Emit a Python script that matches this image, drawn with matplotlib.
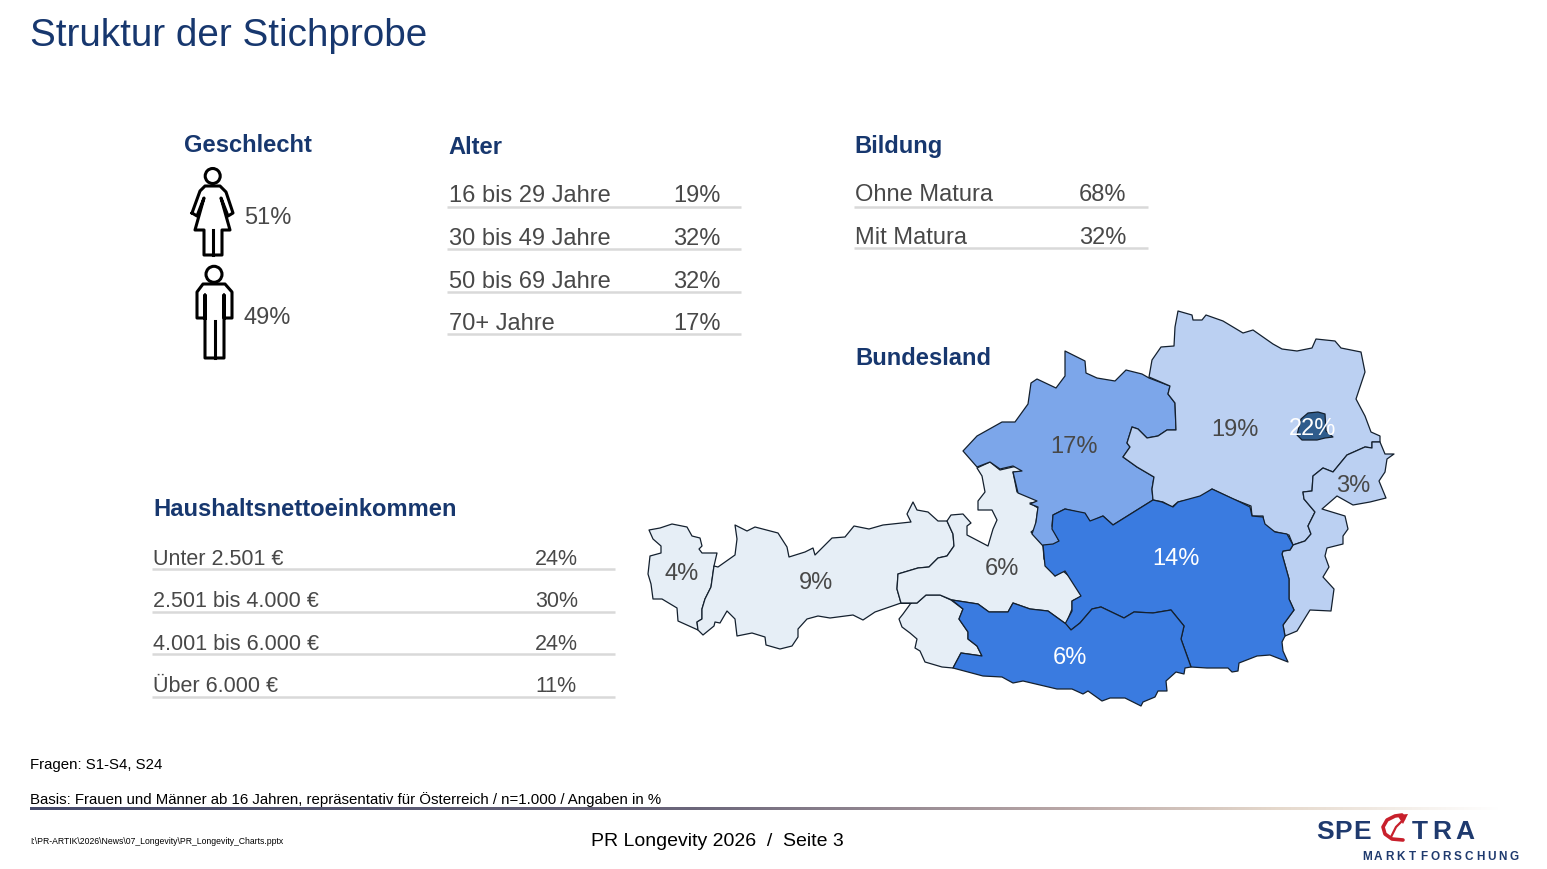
import numpy as np
import matplotlib
matplotlib.use("Agg")
import matplotlib.pyplot as plt
from matplotlib.patches import Polygon, Circle

plt.rcParams["font.family"] = ["Liberation Sans", "DejaVu Sans"]

# ----------------------------
# Data
# ----------------------------
alter_labels = ["16 bis 29 Jahre", "30 bis 49 Jahre", "50 bis 69 Jahre", "70+ Jahre"]
alter_values = [19, 32, 32, 17]
bildung_labels = ["Ohne Matura", "Mit Matura"]
bildung_values = [68, 32]
einkommen_labels = ["Unter 2.501 €", "2.501 bis 4.000 €", "4.001 bis 6.000 €", "Über 6.000 €"]
einkommen_values = [24, 30, 24, 11]
geschlecht_values = [51, 49]

# map shapes (pixel coords)
vorarlberg = [(649,531),(660,529),(672,525),(687,528),(692,537),(700,539),(702,547),(699,550),(702,554),(717,554),
              (714,567),(711,588),(705,600),(702,610),(702,620),(697,623),(698,631),(678,622),(677,609),(662,600),
              (653,600),(651,585),(648,575),(650,557),(661,554),(661,547),(653,540)]
tirol = [(735,526),(747,532),(755,528),(778,534),(787,548),(789,558),(805,553),(813,549),(815,556),(832,539),
         (845,538),(854,527),(869,530),(883,526),(911,523),(907,515),(913,503),(917,511),(928,513),(938,522),
         (947,522),(953,535),(954,547),(947,557),(938,559),(929,568),(918,569),(898,575),(897,590),(901,604),
         (875,613),(863,621),(853,616),(830,619),(818,617),(807,620),(798,630),(798,638),(792,647),(780,650),
         (766,646),(765,638),(752,634),(737,637),(735,620),(727,612),(720,624),(715,623),(714,627),(703,636),
         (698,631),(697,623),(702,620),(702,610),(705,600),(711,588),(714,567),(718,568),(735,556),(737,540)]
osttirol = [(901,604),(917,604),(926,596),(940,596),(951,601),(963,610),(959,620),(968,633),(968,640),(977,647),
            (982,657),(961,654),(953,669),(942,668),(925,663),(920,652),(915,649),(917,640),(910,634),(902,628),
            (899,620),(903,615),(911,604)]
salzburg = [(977,469),(990,463),(1000,471),(1017,467),(1023,473),(1013,473),(1017,493),(1035,497),(1037,503),(1030,504),
            (1038,509),(1035,530),(1031,533),(1043,546),(1044,560),(1055,577),(1063,572),(1070,578),(1082,597),(1072,602),
            (1072,610),(1066,625),(1048,612),(1030,610),(1013,604),(1008,613),(989,613),(978,605),(952,601),(940,596),
            (926,596),(917,604),(901,604),(897,590),(898,575),(918,569),(929,568),(938,559),(947,557),(954,547),
            (953,535),(947,522),(951,516),(963,515),(971,524),(967,527),(967,536),(988,547),(993,530),(997,521),
            (992,511),(978,511),(978,502),(985,493),(982,477)]
oberoesterreich = [(1065,352),(1085,362),(1086,374),(1097,379),(1115,382),(1126,371),(1142,375),(1149,379),(1170,387),(1168,395),
                   (1175,404),(1176,431),(1167,431),(1158,437),(1147,439),(1138,430),(1132,428),(1127,444),(1130,448),(1123,458),
                   (1137,468),(1154,478),(1152,490),(1153,501),(1113,526),(1103,517),(1090,523),(1085,515),(1065,510),(1053,516),
                   (1052,527),(1059,542),(1057,546),(1043,547),(1032,535),(1036,523),(1038,508),(1030,505),(1037,502),(1018,494),
                   (1013,473),(1022,472),(1013,467),(1000,470),(990,463),(977,468),(963,452),(977,437),(1002,423),(1015,423),
                   (1028,405),(1031,384),(1037,380),(1056,389),(1065,377)]
niederoesterreich = [(1178,312),(1192,316),(1193,321),(1202,321),(1206,316),(1223,322),(1243,334),(1253,331),(1273,345),(1282,350),
                     (1297,352),(1312,349),(1316,340),(1335,342),(1341,349),(1361,353),(1365,373),(1356,400),(1365,417),(1371,433),
                     (1380,437),(1380,443),(1372,443),(1372,449),(1365,448),(1347,456),(1333,473),(1323,469),(1313,477),(1312,492),
                     (1303,493),(1304,500),(1315,513),(1308,527),(1311,535),(1305,542),(1293,546),(1289,536),(1272,532),(1264,525),
                     (1263,517),(1252,517),(1251,507),(1233,500),(1212,490),(1202,498),(1178,503),(1172,508),(1163,503),(1153,501),
                     (1152,490),(1154,478),(1137,468),(1123,458),(1130,448),(1127,444),(1132,428),(1138,430),(1147,439),(1158,437),
                     (1167,431),(1176,431),(1175,404),(1168,395),(1170,387),(1149,378),(1152,361),(1161,348),(1174,347),(1175,328)]
wien = [(1297,436),(1301,420),(1308,414),(1318,413),(1325,415),(1326,432),(1333,438),(1325,439),(1317,441),(1302,441)]
burgenland = [(1380,443),(1385,455),(1394,455),(1387,460),(1385,473),(1379,482),(1386,499),(1370,503),(1353,506),(1337,497),
              (1322,510),(1345,517),(1348,530),(1343,537),(1343,545),(1327,549),(1325,557),(1329,568),(1323,578),(1334,590),
              (1331,612),(1310,611),(1297,632),(1285,637),(1283,626),(1294,611),(1289,600),(1289,580),(1282,555),(1283,552),
              (1290,551),(1293,546),(1305,542),(1311,535),(1308,527),(1315,513),(1304,500),(1303,493),(1312,492),(1313,477),
              (1323,469),(1333,473),(1347,456),(1365,448),(1372,449),(1372,443)]
steiermark = [(1043,546),(1053,545),(1059,542),(1052,530),(1053,516),(1065,510),(1085,514),(1090,522),(1103,517),(1113,526),
              (1153,501),(1162,503),(1173,508),(1178,503),(1200,497),(1212,490),(1240,503),(1250,508),(1252,517),(1263,518),
              (1265,525),(1275,533),(1287,535),(1293,546),(1290,551),(1283,552),(1282,555),(1289,580),(1289,600),(1294,611),
              (1283,626),(1285,637),(1282,643),(1283,652),(1288,663),(1270,656),(1257,657),(1239,664),(1238,672),(1232,673),
              (1228,669),(1207,669),(1191,668),(1181,640),(1184,627),(1171,611),(1153,614),(1134,613),(1124,619),(1101,608),
              (1092,610),(1080,624),(1071,631),(1065,625),(1072,612),(1072,602),(1081,597),(1065,572),(1055,577),(1045,567)]
kaernten = [(953,669),(961,654),(982,657),(977,647),(968,640),(968,633),(959,620),(963,610),(952,601),(978,605),
            (989,613),(1008,613),(1013,604),(1030,610),(1048,612),(1066,625),(1071,631),(1080,624),(1092,610),(1101,608),
            (1124,619),(1134,613),(1153,614),(1171,611),(1184,627),(1181,640),(1191,668),(1185,669),(1184,675),(1176,673),
            (1166,682),(1167,692),(1158,692),(1155,698),(1143,703),(1141,707),(1125,699),(1110,699),(1102,702),(1088,692),
            (1083,695),(1072,690),(1057,690),(1023,682),(1013,684),(1002,678),(983,677)]

# shape, colour, share, label position, label colour
bundeslaender = [
    (vorarlberg, "#E6EEF6", 4, (682, 574), "#484848"),
    (tirol, "#E6EEF6", 9, (816, 583), "#484848"),
    (osttirol, "#E6EEF6", None, None, None),
    (salzburg, "#E6EEF6", 6, (1002, 569), "#484848"),
    (oberoesterreich, "#7CA6EA", 17, (1074, 447), "#484848"),
    (niederoesterreich, "#BBD0F2", 19, (1235, 430), "#484848"),
    (burgenland, "#BBD0F2", 3, (1353, 486), "#484848"),
    (steiermark, "#3A7BE0", 14, (1176, 559), "white"),
    (kaernten, "#3A7BE0", 6, (1070, 658), "white"),
    (wien, "#2F5C8C", 22, (1313, 429), "white"),
]

# pictograms
frau = [(192,214),(200,192),(205,187),(220,187),(226,193),(233,214),(228,217),(221,199),(230,231),(222,231),
        (222,256),(204,256),(204,231),(195,231),(204,199),(197,217),(192,214)]
mann = [(205,319),(197,319),(197,293),(203,285),(225,285),(232,293),(232,319),(224,319),(224,296),(224,359),
        (205,359),(205,296),(205,319)]

NAVY = "#17376E"
GREY = "#484848"
RULE = "#D9D9D9"
LOGO = "#1F3A6E"
LOGO_RED = "#C8202C"

# ----------------------------
# Canvas in pixel coords
# ----------------------------
fig = plt.figure(figsize=(15.47, 8.70), dpi=100)
ax = fig.add_axes([0, 0, 1, 1])
ax.set_xlim(0, 1547)
ax.set_ylim(870, 0)
ax.axis("off")

ax.text(30, 36, "Struktur der Stichprobe", fontsize=27.8, color=NAVY, va="center")


def heading(x, y, s):
    ax.text(x, y, s, fontsize=17.1, fontweight="bold", color=NAVY, va="center")


def table(labels, values, x_label, x_value, x0, x1, y_text, y_rule, size=17):
    for lab, val, yt, yr in zip(labels, values, y_text, y_rule):
        ax.text(x_label, yt, lab, fontsize=size, color=GREY, va="center")
        ax.text(x_value, yt, f"{val}%", fontsize=size, color=GREY, va="center")
        ax.plot([x0, x1], [yr, yr], color=RULE, lw=1.8, solid_capstyle="butt")


heading(184, 146, "Geschlecht")
heading(448, 147, "Alter")
heading(854, 146, "Bildung")
heading(153, 509, "Haushaltsnettoeinkommen")
heading(855, 359, "Bundesland")

table(alter_labels, alter_values, 449, 673, 447, 741, [196, 239, 282, 324], [208, 250, 293, 335])
table(bildung_labels, bildung_values, 855, 1079, 854, 1148, [195, 238], [208, 249])
table(einkommen_labels, einkommen_values, 153, 535, 152, 615, [560, 602, 645, 687], [570, 613, 655, 698], size=15.5)

# ----------------------------
# Gender icons
# ----------------------------
for shape, head, mid in [(frau, (212.7, 177, 7.5), (213, 231, 256)), (mann, (214, 275.3, 8), (214.5, 322, 359))]:
    ax.plot(*zip(*shape), color="black", lw=2.2, solid_joinstyle="round")
    ax.add_patch(Circle(head[:2], head[2], fill=False, ec="black", lw=2.2))
    ax.plot([mid[0], mid[0]], [mid[1], mid[2]], color="black", lw=2.2)
ax.text(244, 218, f"{geschlecht_values[0]}%", fontsize=17, color=GREY, va="center")
ax.text(244, 318, f"{geschlecht_values[1]}%", fontsize=17, color=GREY, va="center")

# ----------------------------
# Map
# ----------------------------
for shape, colour, share, pos, tcol in bundeslaender:
    ax.add_patch(Polygon(shape, closed=True, fc=colour, ec="#14202E", lw=0.9, joinstyle="round"))
for shape, colour, share, pos, tcol in bundeslaender:
    if share is not None:
        ax.text(pos[0], pos[1], f"{share}%", fontsize=17, color=tcol, ha="center", va="center")

# ----------------------------
# Footer
# ----------------------------
ax.text(30, 765, "Fragen: S1-S4, S24", fontsize=10.85, color="black", va="center")
ax.text(30, 800, "Basis: Frauen und Männer ab 16 Jahren, repräsentativ für Österreich / n=1.000 / Angaben in %",
        fontsize=10.85, color="black", va="center", zorder=3)
ax.text(30, 842, "I:\\PR-ARTIK\\2026\\News\\07_Longevity\\PR_Longevity_Charts.pptx", fontsize=6.2, color="black", va="center")
ax.text(591, 842, "PR Longevity 2026  /  Seite 3", fontsize=14, color="black", va="center")

# gradient rule
grad_pos = [0, 0.45, 0.7, 0.85, 1]
grad_rgb = np.array([[0.27, 0.29, 0.42], [0.42, 0.40, 0.48], [0.72, 0.65, 0.65], [0.90, 0.85, 0.80], [1.0, 1.0, 1.0]])
t = np.linspace(0, 1, 400)
grad = np.stack([np.interp(t, grad_pos, grad_rgb[:, i]) for i in range(3)], axis=1)[None, :, :]
ax.imshow(grad, extent=(30, 1500, 811, 808), aspect="auto", zorder=1, interpolation="bilinear")
ax.set_xlim(0, 1547)
ax.set_ylim(870, 0)

# logo
for ch, x in zip("SPETRA", [1325, 1343, 1362, 1420, 1442, 1465]):
    ax.text(x, 832, ch, fontsize=19, fontweight="bold", color=LOGO, ha="center", va="center")
ax.plot([1403, 1392, 1385, 1383, 1387, 1395, 1402], [841, 840, 835, 828, 821, 817, 816], color=LOGO_RED, lw=2.6, solid_capstyle="round")
ax.plot([1391, 1396, 1404], [838, 828, 820], color=LOGO_RED, lw=1.6)
ax.add_patch(Polygon([(1397, 816), (1408, 815), (1403, 825)], closed=True, fc=LOGO_RED, ec="none"))
for ch, x in zip("MARKTFORSCHUNG", np.linspace(1367, 1514, 14)):
    ax.text(x, 857, ch, fontsize=8.5, fontweight="bold", color=LOGO, ha="center", va="center")

fig.savefig("out.png", dpi=100)
